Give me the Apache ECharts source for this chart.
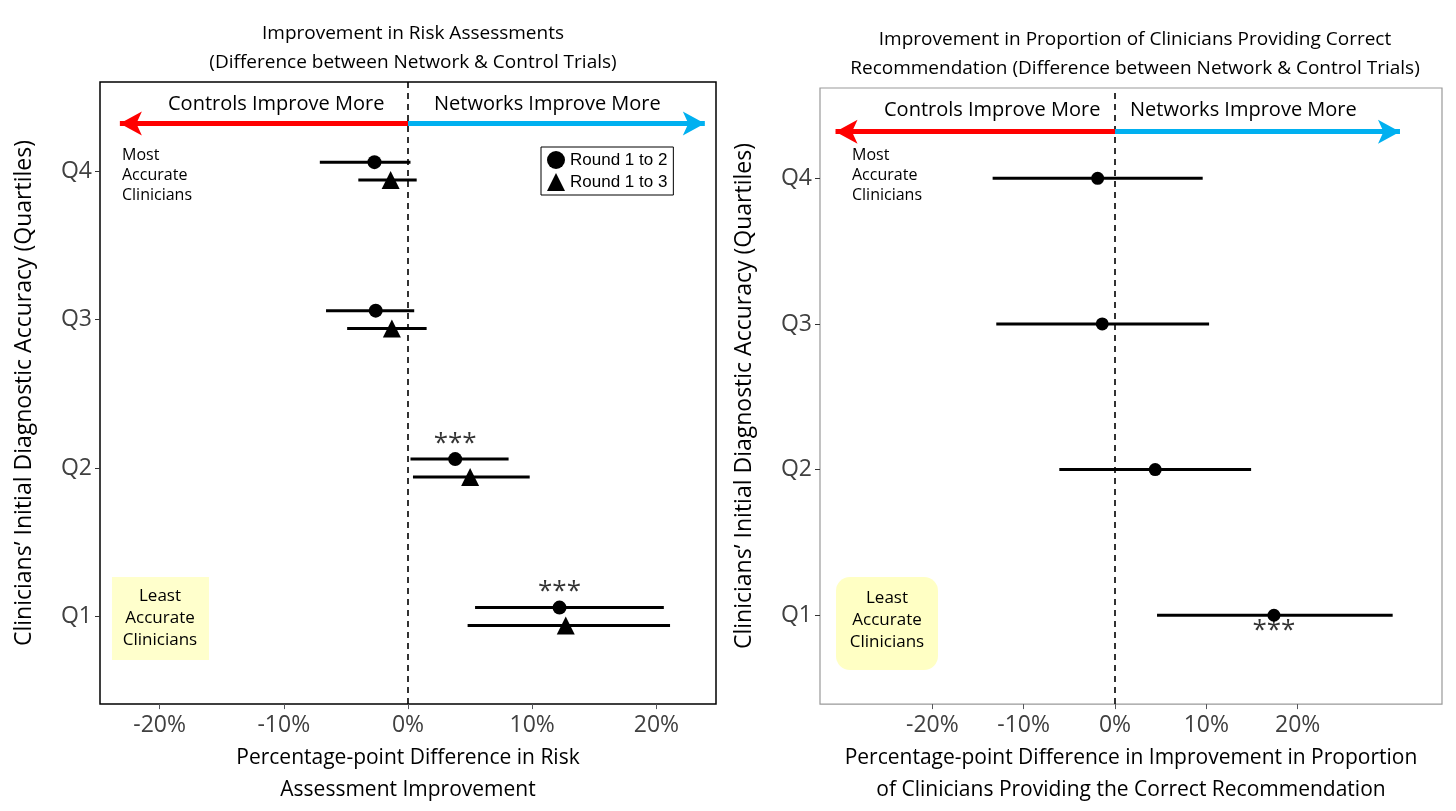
<!DOCTYPE html>
<html><head><meta charset="utf-8">
<script src="https://cdn.jsdelivr.net/npm/echarts@6/dist/echarts.min.js"></script>
<style>html,body{margin:0;background:#fff}#main{width:1456px;height:811px}</style>
</head><body><div id="main"></div>
<script>
// quartile positions (Q1..Q4)
const quartiles = [1, 2, 3, 4];
// left panel: risk assessment difference (%), round 1->2 and round 1->3
const r12Est = [12.2, 3.8, -2.6, -2.7];
const r12Lo = [5.4, 0.2, -6.6, -7.1];
const r12Hi = [20.6, 8.1, 0.5, 0.2];
const r13Est = [12.7, 5.0, -1.3, -1.4];
const r13Lo = [4.8, 0.4, -4.9, -4.0];
const r13Hi = [21.1, 9.8, 1.5, 0.7];
const leftStars = ['***', '***', '', ''];
// right panel: proportion correct recommendation difference (%)
const recEst = [17.4, 4.4, -1.4, -1.9];
const recLo = [4.6, -6.1, -13.0, -13.4];
const recHi = [30.4, 14.9, 10.3, 9.6];
const rightStars = ['***', '', '', ''];

const dodge = 0.06;
const font = 'Open Sans, Noto Sans, sans-serif';

function errData(lo, hi, off) {
  return quartiles.map((q, i) => [lo[i], hi[i], q + off]);
}
function errSeries(xi, lo, hi, off) {
  return {
    type: 'custom', xAxisIndex: xi, yAxisIndex: xi, silent: true,
    encode: { x: [0, 1], y: 2 },
    data: errData(lo, hi, off),
    renderItem: function (params, api) {
      const a = api.coord([api.value(0), api.value(2)]);
      const b = api.coord([api.value(1), api.value(2)]);
      return { type: 'line', shape: { x1: a[0], y1: a[1], x2: b[0], y2: b[1] },
        style: { stroke: '#000', lineWidth: 3 } };
    }
  };
}
function pointSeries(xi, name, est, off, sym, size) {
  return {
    type: 'scatter', name: name, xAxisIndex: xi, yAxisIndex: xi, symbol: sym, symbolSize: size,
    itemStyle: { color: '#000', opacity: 1 }, z: 5,
    data: quartiles.map((q, i) => [est[i], q + off])
  };
}
function starSeries(xi, est, stars, off, pos) {
  return {
    type: 'scatter', xAxisIndex: xi, yAxisIndex: xi, symbolSize: 1, itemStyle: { color: 'transparent' },
    label: { show: true, position: pos, formatter: p => stars[p.dataIndex], fontSize: 26, color: '#000', fontFamily: font, distance: 2 },
    data: quartiles.map((q, i) => [est[i], q + off]), z: 6
  };
}
function guideSeries(xi, arrowL, arrowR) {
  return {
    type: 'line', xAxisIndex: xi, yAxisIndex: xi, data: [], silent: true,
    markLine: {
      silent: true, symbol: ['none', 'none'], label: { show: false },
      data: [
        { xAxis: 0, lineStyle: { type: [6, 5], color: '#000', width: 1.6 } },
        [{ coord: [arrowL, 4.32], symbol: 'arrow', symbolSize: [18, 22], lineStyle: { color: '#ff0000', width: 5, type: 'solid' } },
         { coord: [0, 4.32], symbol: 'none' }],
        [{ coord: [0, 4.32], symbol: 'none', lineStyle: { color: '#00b0f0', width: 5, type: 'solid' } },
         { coord: [arrowR, 4.32], symbol: 'arrow', symbolSize: [18, 22] }]
      ]
    }
  };
}
function yAxis(gi, min, max) {
  return {
    type: 'value', gridIndex: gi, min: min, max: max, splitLine: { show: false },
    axisLine: { show: false, onZero: false },
    axisTick: { show: true, customValues: quartiles, length: 5, lineStyle: { color: '#333' } },
    axisLabel: { customValues: quartiles, formatter: v => 'Q' + v, fontSize: 23, color: '#404040', fontFamily: font },
    name: 'Clinicians\u2019 Initial Diagnostic Accuracy (Quartiles)', nameLocation: 'middle', nameGap: 64,
    nameTextStyle: { fontSize: 23, color: '#000', fontFamily: font }
  };
}
function xAxis(gi, min, max, name) {
  return {
    type: 'value', gridIndex: gi, min: min, max: max, splitLine: { show: false },
    axisLine: { show: false, onZero: false },
    axisTick: { show: true, customValues: [-20, -10, 0, 10, 20], length: 5 },
    axisLabel: { customValues: [-20, -10, 0, 10, 20], formatter: v => v + '%', fontSize: 23, color: '#404040', fontFamily: font, margin: 10 },
    name: name, nameLocation: 'middle', nameGap: 34,
    nameTextStyle: { fontSize: 21, color: '#000', fontFamily: font, lineHeight: 32 }
  };
}

const chart = echarts.init(document.getElementById('main'));
chart.setOption({
  animation: false,
  title: [
    { text: 'Improvement in Risk Assessments\n(Difference between Network & Control Trials)', left: 408, top: 14, textAlign: 'center',
      textStyle: { fontSize: 19, fontWeight: 'normal', lineHeight: 29, fontFamily: font, color: '#000' } },
    { text: 'Improvement in Proportion of Clinicians Providing Correct\nRecommendation (Difference between Network & Control Trials)', left: 1130, top: 20, textAlign: 'center',
      textStyle: { fontSize: 19, fontWeight: 'normal', lineHeight: 29, fontFamily: font, color: '#000' } }
  ],
  grid: [
    { left: 100, right: 740, top: 82, bottom: 95, show: true, borderColor: '#000', borderWidth: 1.5 },
    { left: 820, right: 14, top: 88, bottom: 97, show: true, borderColor: '#999', borderWidth: 1.2 }
  ],
  legend: {
    left: 541, top: 147, orient: 'vertical', itemGap: 4, itemWidth: 18, itemHeight: 18,
    borderColor: '#000', borderWidth: 1, padding: [4, 6],
    data: [{ name: 'Round 1 to 2', icon: 'circle' }, { name: 'Round 1 to 3', icon: 'triangle' }],
    textStyle: { fontSize: 17, fontFamily: 'Arial, Liberation Sans, sans-serif', color: '#000' }
  },
  xAxis: [
    xAxis(0, -24.8, 24.8, 'Percentage-point Difference in Risk\nAssessment Improvement'),
    xAxis(1, -32.3, 35.8, 'Percentage-point Difference in Improvement in Proportion\nof Clinicians Providing the Correct Recommendation')
  ],
  yAxis: [yAxis(0, 0.41, 4.6), yAxis(1, 0.39, 4.62)],
  graphic: [
    { type: 'text', left: 168, top: 94, style: { text: 'Controls Improve More', fontSize: 20, fontFamily: font, fill: '#000' } },
    { type: 'text', left: 434, top: 94, style: { text: 'Networks Improve More', fontSize: 20, fontFamily: font, fill: '#000' } },
    { type: 'text', left: 122, top: 145, style: { text: 'Most\nAccurate\nClinicians', fontSize: 16, lineHeight: 20, fontFamily: font, fill: '#000', align: 'center' } },
    { type: 'rect', shape: { x: 112, y: 577, width: 97, height: 83 }, style: { fill: '#ffffcc' } },
    { type: 'text', x: 160, y: 618, style: { text: 'Least\nAccurate\nClinicians', fontSize: 17, lineHeight: 22, fontFamily: font, fill: '#000', align: 'center', verticalAlign: 'middle' } },
    { type: 'text', left: 884, top: 100, style: { text: 'Controls Improve More', fontSize: 20, fontFamily: font, fill: '#000' } },
    { type: 'text', left: 1130, top: 100, style: { text: 'Networks Improve More', fontSize: 20, fontFamily: font, fill: '#000' } },
    { type: 'text', left: 852, top: 145, style: { text: 'Most\nAccurate\nClinicians', fontSize: 16, lineHeight: 20, fontFamily: font, fill: '#000', align: 'center' } },
    { type: 'rect', shape: { x: 836, y: 577, width: 102, height: 93, r: 14 }, style: { fill: '#ffffc4' } },
    { type: 'text', x: 887, y: 620, style: { text: 'Least\nAccurate\nClinicians', fontSize: 17, lineHeight: 22, fontFamily: font, fill: '#000', align: 'center', verticalAlign: 'middle' } }
  ],
  series: [
    guideSeries(0, -23.2, 23.9),
    errSeries(0, r12Lo, r12Hi, dodge),
    errSeries(0, r13Lo, r13Hi, -dodge),
    pointSeries(0, 'Round 1 to 2', r12Est, dodge, 'circle', 14),
    pointSeries(0, 'Round 1 to 3', r13Est, -dodge, 'triangle', 18),
    starSeries(0, r12Est, leftStars, dodge, 'top'),
    guideSeries(1, -30.6, 31.2),
    errSeries(1, recLo, recHi, 0),
    pointSeries(1, 'rec', recEst, 0, 'circle', 13),
    starSeries(1, recEst, rightStars, 0, 'bottom')
  ]
});
</script>
</body></html>
